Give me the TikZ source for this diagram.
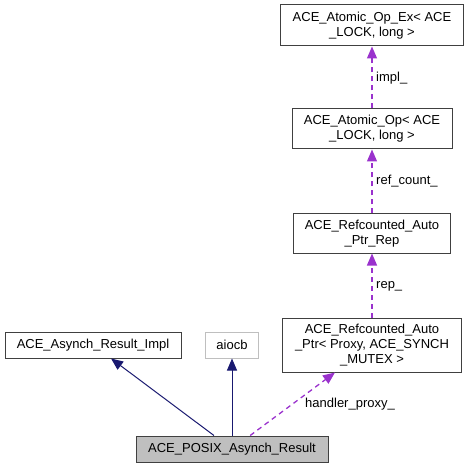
\documentclass[tikz,border=0pt]{standalone}
\usepackage{fontspec}
\setmainfont{Liberation Sans}
\usetikzlibrary{arrows.meta}
\definecolor{navy}{HTML}{191970}
\definecolor{purp}{HTML}{9A32CD}
\definecolor{lgray}{HTML}{BFBFBF}
\begin{document}
\begin{tikzpicture}[x=1pt,y=-1pt,
  box/.style={draw=black!75, line width=1pt, rectangle, inner sep=0pt, align=center, font=\fontsize{13}{15}\selectfont},
  inh/.style={color=navy, line width=1pt, -{Triangle[length=12pt,width=10pt]}},
  use/.style={color=purp, line width=1.3pt, dash pattern=on 5pt off 4pt, -{Triangle[length=12pt,width=10pt]}},
  lbl/.style={font=\fontsize{13}{15}\selectfont, inner sep=0pt, anchor=west}]
\useasboundingbox (0,0) rectangle (469,468);
\node[box, minimum width=183pt, minimum height=41pt] (opex) at (372,25.5) {ACE\_Atomic\_Op\_Ex< ACE\\\_LOCK, long >};
\node[box, minimum width=160pt, minimum height=40pt] (op) at (372,129) {ACE\_Atomic\_Op< ACE\\\_LOCK, long >};
\node[box, minimum width=157pt, minimum height=39pt] (rep) at (372,233.5) {ACE\_Refcounted\_Auto\\\_Ptr\_Rep};
\node[box, minimum width=179pt, minimum height=54pt] (ptr) at (372,345) {ACE\_Refcounted\_Auto\\\_Ptr< Proxy, ACE\_SYNCH\\\_MUTEX >};
\node[box, minimum width=176pt, minimum height=26pt] (impl) at (93,345) {ACE\_Asynch\_Result\_Impl};
\node[box, draw=lgray, minimum width=53pt, minimum height=26pt] (aiocb) at (232,345) {aiocb};
\node[box, fill=lgray, minimum width=192pt, minimum height=26pt] (posix) at (232,449) {ACE\_POSIX\_Asynch\_Result};
\draw[inh] (posix) -- (impl);
\draw[inh] (posix) -- (aiocb);
\draw[use] (posix) -- (ptr);
\draw[use] (ptr) -- (rep);
\draw[use] (rep) -- (op);
\draw[use] (op) -- (opex);
\node[lbl] (l1) at (376,78) {impl\_};
\node[lbl] (l2) at (376,181) {ref\_count\_};
\node[lbl] (l3) at (376,286) {rep\_};
\node[lbl] (l4) at (305,404) {handler\_proxy\_};
\end{tikzpicture}
\end{document}
